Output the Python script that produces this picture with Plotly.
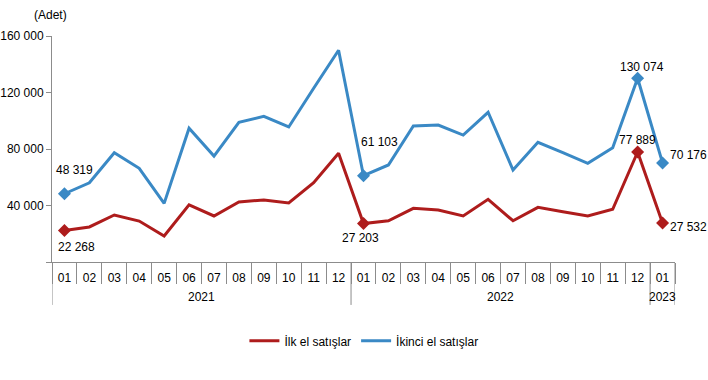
import plotly.graph_objects as go

years = ["2021"] * 12 + ["2022"] * 12 + ["2023"]
months = ["01", "02", "03", "04", "05", "06", "07", "08", "09", "10", "11", "12",
          "01", "02", "03", "04", "05", "06", "07", "08", "09", "10", "11", "12",
          "01"]

ilk_el = [22268, 24800, 33300, 29000, 18400, 40400, 32600, 42500, 43900, 41800, 56100, 77000,
          27203, 29200, 38000, 36800, 32600, 44400, 29200, 38700, 35600, 32600, 37300, 77889,
          27532]
ikinci_el = [48319, 56100, 77400, 66300, 41500, 94700, 75000, 98900, 103100, 95600, 123000, 149900,
             61103, 68700, 96300, 97000, 89900, 106000, 65100, 84700, 77400, 69900, 80900, 130074,
             70176]

# which points get a diamond marker and a value label
labelled = [0, 12, 23, 24]
# label offsets in pixels (dx, dy) per labelled point
ilk_offsets = [(12, -16), (-3, -14), (0, 12), (26, -4)]
ikinci_offsets = [(10, 24), (16, 34), (4, 11), (26, 8)]

y_ticks = [0, 40000, 80000, 120000, 160000]
y_ticktext = ["", "40 000", "80 000", "120 000", "160 000"]

RED = "#AE1C1C"
BLUE = "#3A89C5"
AXIS = "#8C8C8C"
FONT = "Liberation Sans, Arial, sans-serif"


def fmt(v):
    return f"{v:,}".replace(",", " ")


xs = list(range(len(months)))
annotations = []


def add_series(fig, values, name, color, offsets):
    fig.add_trace(go.Scatter(
        x=xs, y=values, name=name, mode="lines",
        line=dict(color=color, width=3), cliponaxis=False,
    ))
    fig.add_trace(go.Scatter(
        x=[xs[i] for i in labelled], y=[values[i] for i in labelled],
        mode="markers", showlegend=False, hoverinfo="skip",
        marker=dict(symbol="diamond", size=10, color=color, opacity=1,
                    line=dict(width=0)),
        cliponaxis=False,
    ))
    for i, (dx, dy) in zip(labelled, offsets):
        annotations.append(dict(
            x=xs[i], y=values[i], xref="x", yref="y", text=fmt(values[i]),
            showarrow=False, xanchor="center", yanchor="middle",
            xshift=dx, yshift=dy,
            font=dict(family=FONT, size=12, color="#000000")))


fig = go.Figure()
add_series(fig, ilk_el, "İlk el satışlar", RED, ilk_offsets)
add_series(fig, ikinci_el, "İkinci el satışlar", BLUE, ikinci_offsets)

# year groups: labels and dividers
groups = []
for i, yv in enumerate(years):
    if not groups or groups[-1][0] != yv:
        groups.append([yv, i, i])
    else:
        groups[-1][2] = i

shapes = []
bounds = sorted({g[1] - 0.5 for g in groups} | {groups[-1][2] + 0.5})
for b in bounds:
    shapes.append(dict(type="line", xref="x", yref="paper", x0=b, x1=b,
                       y0=0, y1=-0.19, line=dict(color=AXIS, width=1)))
for yv, a, bnd in groups:
    annotations.append(dict(
        x=(a + bnd) / 2, y=0, xref="x", yref="paper", text=yv, showarrow=False,
        xanchor="center", yanchor="middle", yshift=-35,
        font=dict(family=FONT, size=12, color="#000000")))

annotations.append(dict(text="(Adet)", xref="paper", yref="paper", x=0, y=1.0,
                        xanchor="center", yanchor="middle", xshift=-1.5, yshift=21,
                        showarrow=False,
                        font=dict(family=FONT, size=12, color="#000000")))

fig.update_layout(
    width=708, height=380,
    margin=dict(l=52, r=33, t=36, b=118, autoexpand=False),
    paper_bgcolor="white", plot_bgcolor="white",
    font=dict(family=FONT, size=12, color="#000000"),
    showlegend=True,
    legend=dict(orientation="h", xref="container", yref="container",
                x=0.514, y=0.103, xanchor="center", yanchor="middle",
                font=dict(family=FONT, size=12, color="#000000"),
                itemwidth=30, tracegroupgap=0),
    annotations=annotations,
    shapes=shapes,
)

fig.update_xaxes(
    range=[-0.5, len(months) - 0.5],
    tickvals=xs, ticktext=months, ticks="", tickangle=0,
    minor=dict(tickvals=[i - 0.5 for i in range(len(months) + 1)],
               ticks="outside", ticklen=21, tickcolor=AXIS, tickwidth=1,
               showgrid=False),
    showline=True, linecolor=AXIS, linewidth=1,
    showgrid=False, zeroline=False, automargin=False,
    ticklabelstandoff=5,
    tickfont=dict(family=FONT, size=12, color="#000000"),
)
fig.update_yaxes(
    range=[0, 160000], tickvals=y_ticks, ticktext=y_ticktext,
    showline=True, linecolor=AXIS, linewidth=1,
    ticks="outside", ticklen=5, tickcolor=AXIS, automargin=False,
    showgrid=False, zeroline=False,
    tickfont=dict(family=FONT, size=12, color="#000000"),
)

fig.write_html("out.html", config={"displayModeBar": False},
               post_script="document.body.style.margin='0';")
